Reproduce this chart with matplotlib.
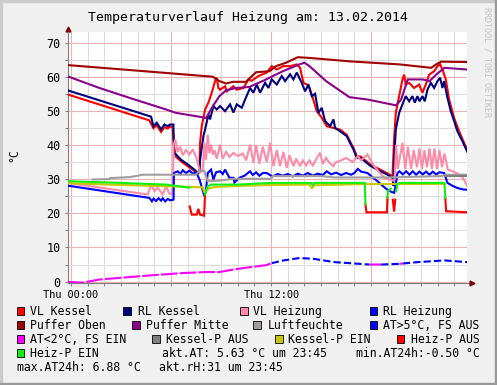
import numpy as np
import matplotlib.pyplot as plt
from matplotlib.patches import Rectangle

# Temperaturverlauf Heizung (RRDtool-Nachbau)
# Zeit in Stunden ab Thu 00:00, Werte in °C bzw. % (Luftfeuchte)

vl_kessel = [(-0.2, 54.8), (4.7, 47.2), (4.94, 44.9), (5.14, 45.8), (5.4, 43.8), (5.6, 45.2), (5.8, 44.8),
             (5.94, 45.5), (6.1, 45.0), (6.16, 40.0), (6.3, 36.5), (6.6, 35.2), (7.0, 33.8), (7.4, 32.4),
             (7.6, 31.5), (7.7, 33.0), (7.74, 40.6), (7.84, 45.5), (8.04, 50.4), (8.24, 52.4), (8.44, 55.3),
             (8.64, 58.7), (8.74, 59.7), (8.84, 56.7), (8.94, 56.2), (9.24, 57.2), (9.34, 55.7), (9.74, 57.2),
             (9.94, 56.2), (10.34, 56.7), (10.64, 59.2), (10.84, 58.8), (11.24, 60.2), (11.74, 61.2),
             (12.04, 63.1), (12.34, 62.1), (12.74, 63.1), (13.14, 63.1), (13.54, 63.6), (13.74, 62.6),
             (13.94, 58.2), (14.24, 57.5), (14.44, 54.8), (14.74, 49.9), (15.04, 48.0), (15.34, 45.5),
             (15.74, 45.0), (16.14, 44.5), (16.54, 43.0), (16.74, 41.0), (16.94, 39.2), (17.14, 36.7),
             (17.38, 36.6), (17.98, 34.2), (18.58, 32.7), (18.98, 31.7), (19.28, 30.8), (19.38, 41.6),
             (19.48, 49.4), (19.68, 54.3), (19.88, 59.2), (19.98, 60.6), (20.08, 57.7), (20.28, 58.2),
             (20.58, 56.7), (20.88, 57.7), (21.08, 55.3), (21.28, 57.7), (21.48, 60.6), (21.78, 61.6),
             (21.98, 63.1), (22.14, 63.6), (22.28, 62.1), (22.48, 59.2), (22.68, 53.3), (22.98, 47.9),
             (23.28, 44.0), (23.58, 40.6), (23.77, 38.5)]

rl_kessel = [(-0.2, 56.0), (4.8, 48.3), (4.94, 45.5), (5.14, 46.5), (5.4, 44.6), (5.6, 46.0), (5.8, 45.5),
             (5.94, 46.0), (6.14, 46.0), (6.18, 37.5), (6.3, 37.2), (6.6, 35.7), (7.0, 34.3), (7.4, 32.8),
             (7.6, 31.8), (7.7, 32.0), (7.74, 35.7), (7.94, 42.6), (8.04, 44.5), (8.24, 48.9), (8.34, 47.5),
             (8.54, 51.4), (8.74, 50.4), (8.94, 51.4), (9.24, 49.9), (9.54, 51.9), (9.74, 49.5), (9.94, 51.9),
             (10.24, 50.9), (10.44, 53.3), (10.74, 56.7), (10.94, 55.3), (11.14, 57.7), (11.34, 55.3),
             (11.64, 58.2), (11.84, 56.7), (12.04, 59.2), (12.34, 57.7), (12.64, 60.2), (12.84, 58.7),
             (13.14, 60.7), (13.34, 59.2), (13.54, 61.2), (13.74, 59.2), (13.84, 58.2), (14.04, 55.7),
             (14.24, 57.7), (14.44, 54.3), (14.64, 55.0), (14.84, 49.4), (15.04, 50.9), (15.24, 47.0),
             (15.54, 45.5), (15.74, 47.5), (15.84, 45.0), (16.14, 44.0), (16.54, 42.6), (16.74, 40.6),
             (16.94, 38.7), (17.14, 36.2), (17.38, 36.2), (17.98, 33.8), (18.58, 32.3), (18.98, 31.3),
             (19.28, 30.4), (19.34, 28.0), (19.38, 35.7), (19.48, 44.5), (19.68, 49.4), (19.88, 51.9),
             (20.08, 54.3), (20.28, 52.8), (20.48, 54.3), (20.62, 52.4), (20.78, 54.3), (20.9, 52.8),
             (21.08, 54.3), (21.22, 52.8), (21.38, 56.2), (21.58, 58.2), (21.78, 56.7), (21.98, 58.7),
             (22.14, 59.7), (22.28, 56.7), (22.38, 58.7), (22.58, 53.8), (22.78, 49.9), (22.98, 47.0),
             (23.18, 44.0), (23.48, 41.1), (23.77, 38.0)]

vl_heizung = [(-0.2, 28.9), (4.6, 25.5), (4.8, 28.4), (5.0, 26.5), (5.2, 27.5), (5.5, 25.5), (5.7, 27.9),
              (5.9, 25.8), (6.1, 25.5), (6.15, 40.0), (6.25, 41.6), (6.4, 38.0), (6.55, 39.5), (6.7, 37.0),
              (6.9, 38.5), (7.1, 37.2), (7.3, 38.7), (7.5, 36.5), (7.6, 34.8), (7.75, 31.8), (7.9, 33.0),
              (8.0, 40.6), (8.1, 35.7), (8.2, 43.0), (8.3, 37.7), (8.4, 40.1), (8.5, 37.2), (8.6, 38.5),
              (8.74, 36.0), (8.94, 40.1), (9.1, 36.0), (9.3, 38.0), (9.5, 36.5), (9.74, 37.7), (10.0, 36.8),
              (10.3, 37.5), (10.5, 35.5), (10.74, 40.1), (10.94, 34.8), (11.1, 40.0), (11.3, 34.5),
              (11.5, 39.5), (11.74, 35.0), (11.94, 40.6), (12.14, 33.8), (12.34, 38.5), (12.54, 33.8),
              (12.74, 38.0), (12.94, 33.3), (13.1, 37.0), (13.34, 33.8), (13.5, 36.0), (13.74, 33.8),
              (13.9, 35.5), (14.1, 34.0), (14.3, 35.5), (14.5, 34.0), (14.7, 35.8), (14.94, 37.7),
              (15.1, 34.5), (15.3, 36.2), (15.5, 34.8), (15.74, 33.8), (15.84, 34.8), (16.2, 35.5),
              (16.5, 36.2), (16.9, 35.0), (17.2, 36.7), (17.4, 35.5), (17.78, 37.2), (17.98, 35.5),
              (18.18, 33.8), (18.78, 30.4), (19.08, 29.9), (19.4, 29.5), (19.5, 40.1), (19.6, 33.0),
              (19.88, 40.6), (20.05, 33.0), (20.2, 39.5), (20.4, 33.0), (20.55, 38.5), (20.75, 33.5),
              (20.9, 39.0), (21.05, 33.0), (21.2, 38.5), (21.35, 33.5), (21.5, 39.0), (21.65, 33.0),
              (21.8, 39.0), (21.95, 33.0), (22.1, 38.5), (22.25, 33.5), (22.4, 37.5), (22.6, 32.8),
              (22.9, 32.3), (23.3, 31.3), (23.5, 30.4), (23.77, 28.0)]

rl_heizung = [(-0.2, 28.1), (4.7, 24.5), (4.85, 23.5), (4.95, 24.3), (5.1, 23.6), (5.25, 24.4), (5.4, 23.7),
              (5.5, 24.4), (5.65, 23.5), (5.8, 24.2), (5.95, 23.8), (6.15, 24.0), (6.17, 31.8), (6.4, 32.3),
              (6.55, 31.5), (6.7, 32.6), (6.9, 31.8), (7.1, 32.5), (7.3, 31.6), (7.5, 32.0), (7.7, 30.0),
              (7.85, 27.5), (8.0, 25.0), (8.1, 27.0), (8.2, 31.8), (8.4, 32.8), (8.54, 29.9), (8.7, 32.0),
              (8.94, 32.3), (9.1, 31.5), (9.24, 32.8), (9.5, 30.4), (9.74, 30.4), (9.8, 29.0), (10.1, 30.4),
              (10.4, 31.0), (10.74, 32.3), (10.9, 31.2), (11.1, 32.0), (11.3, 31.0), (11.5, 31.8),
              (11.74, 31.8), (12.0, 31.0), (12.14, 30.9), (12.4, 31.5), (12.7, 31.0), (13.0, 31.5),
              (13.3, 30.8), (13.6, 31.6), (13.9, 31.0), (14.2, 31.8), (14.5, 31.0), (14.8, 31.6),
              (15.1, 31.2), (15.34, 32.3), (15.6, 31.4), (15.9, 31.9), (16.2, 31.2), (16.5, 31.8),
              (16.8, 31.3), (17.0, 31.8), (17.2, 33.0), (17.4, 32.2), (17.78, 31.8), (18.1, 30.5),
              (18.38, 29.4), (18.7, 28.0), (18.98, 26.9), (19.2, 26.3), (19.38, 26.0), (19.5, 29.0),
              (19.58, 31.8), (19.7, 32.3), (19.9, 31.4), (20.1, 32.3), (20.3, 31.3), (20.5, 32.3),
              (20.7, 31.3), (20.9, 32.2), (21.1, 31.4), (21.3, 32.2), (21.5, 31.3), (21.7, 32.2),
              (21.9, 31.4), (22.1, 32.0), (22.38, 31.8), (22.58, 28.9), (22.9, 28.0), (23.18, 27.4),
              (23.5, 27.0), (23.77, 26.9)]

puffer_oben = [(-0.2, 63.4), (8.5, 60.0), (8.9, 58.7), (9.3, 58.0), (9.7, 58.5), (10.5, 58.5), (10.74, 59.7),
               (11.1, 61.3), (11.9, 61.6), (12.3, 63.1), (12.9, 64.1), (13.6, 65.7), (14.3, 65.5),
               (16.7, 64.5), (19.7, 63.6), (21.6, 62.6), (21.9, 63.6), (22.2, 64.4), (23.77, 64.3)]

puffer_mitte = [(-0.2, 60.1), (1.7, 56.7), (3.7, 53.5), (5.7, 50.4), (6.3, 49.4), (7.8, 48.2), (8.1, 47.9),
                (8.5, 51.3), (8.9, 54.3), (9.3, 56.0), (9.9, 56.7), (10.7, 57.0), (11.7, 59.2), (12.7, 61.6),
                (13.7, 63.6), (14.0, 64.1), (14.3, 63.1), (15.3, 58.7), (16.7, 54.0), (17.8, 53.3),
                (19.5, 51.6), (19.8, 53.3), (20.2, 59.2), (21.1, 59.2), (21.5, 58.7), (21.9, 60.6),
                (22.4, 62.6), (23.77, 62.1)]

luftfeuchte = [(1.3, 29.9), (2.3, 30.0), (2.35, 30.3), (3.5, 30.6), (3.9, 30.9), (4.3, 31.3), (7.5, 31.3),
               (7.7, 32.5), (8.0, 32.3), (8.2, 29.4), (9.0, 29.6), (9.7, 30.1), (12.0, 30.1), (12.1, 30.9),
               (15.0, 30.9), (15.8, 30.5), (19.0, 30.5), (22.2, 30.9), (22.5, 31.3), (23.77, 31.3)]

at_fs_aus = [(12.04, 5.4), (12.74, 6.2), (13.7, 6.9), (14.5, 6.7), (15.8, 5.7), (17.0, 5.3), (17.9, 5.0),
             (17.91, np.nan), (18.6, 5.0), (19.7, 5.2), (19.71, np.nan), (19.9, 5.3), (20.8, 5.7),
             (22.4, 6.2), (23.77, 5.7)]

at_fs_ein = [(-0.2, -0.1), (0.7, -0.3), (1.7, 0.6), (3.7, 1.4), (4.7, 1.8), (6.7, 2.5), (8.1, 2.8),
             (8.9, 2.8), (9.7, 3.5), (10.7, 4.2), (11.7, 4.8), (12.04, 5.4), (12.05, np.nan),
             (17.9, 5.0), (18.6, 5.0), (18.61, np.nan), (19.7, 5.2), (19.9, 5.3)]

kessel_p_aus = [(22.42, 31.0), (23.77, 31.0)]

kessel_p_ein = [(-0.2, 28.8), (3.0, 28.3), (6.0, 27.9), (7.9, 27.6), (8.0, 26.0), (8.1, 26.8), (8.3, 27.3),
                (8.6, 27.7), (10.0, 28.0), (12.0, 28.3), (14.3, 28.4), (14.45, 27.4), (14.6, 28.2),
                (17.0, 28.5), (19.5, 28.6), (22.4, 28.6)]

heiz_p_aus = [(7.12, 22.0), (7.24, 19.6), (7.54, 19.6), (7.64, 21.3), (7.74, 19.6), (7.98, 19.3), (8.04, 25.5),
              (8.05, np.nan), (17.66, 22.6), (17.72, 20.3), (18.95, 20.3), (18.98, 24.6), (18.99, np.nan),
              (19.3, 24.0), (19.38, 20.5), (19.45, 24.0), (19.46, np.nan), (22.45, 24.5), (22.5, 20.6),
              (23.77, 20.3)]

heiz_p_ein = [(-0.2, 29.4), (3.0, 28.9), (5.7, 28.4), (7.1, 27.5), (7.11, np.nan), (8.04, 25.5), (8.2, 27.9),
              (8.4, 28.4), (10.0, 28.4), (12.0, 28.9), (14.4, 28.9), (14.5, 28.2), (14.6, 28.9),
              (17.62, 28.9), (17.66, 22.6), (17.67, np.nan), (18.98, 24.6), (19.0, 26.5), (19.18, 27.2),
              (19.19, np.nan), (19.5, 26.5), (19.58, 28.4), (19.7, 28.9), (22.4, 28.9), (22.45, 24.5)]

serien = [
    ("VL Kessel", vl_kessel, "#ff0000", "-"),
    ("RL Kessel", rl_kessel, "#000080", "-"),
    ("VL Heizung", vl_heizung, "#ff8aa8", "-"),
    ("RL Heizung", rl_heizung, "#0000ff", "-"),
    ("Puffer Oben", puffer_oben, "#a00000", "-"),
    ("Puffer Mitte", puffer_mitte, "#8b008b", "-"),
    ("Luftfeuchte", luftfeuchte, "#a09ca0", "-"),
    ("AT>5°C, FS AUS", at_fs_aus, "#0000ff", (0, (3.5, 1.5))),
    ("AT<2°C, FS EIN", at_fs_ein, "#ff00ff", (0, (8, 1))),
    ("Kessel-P AUS", kessel_p_aus, "#808080", "-"),
    ("Kessel-P EIN", kessel_p_ein, "#c8c800", "-"),
    ("Heiz-P AUS", heiz_p_aus, "#ff0000", "-"),
    ("Heiz-P EIN", heiz_p_ein, "#10f010", "-"),
]

W, H = 497, 385
plt.rcParams['font.family'] = 'DejaVu Sans Mono'

fig = plt.figure(figsize=(W / 100, H / 100), dpi=100, facecolor='#f0f0f0')

def fx(px):
    return px / W

def fy(py):
    return 1 - py / H

# Rahmen (RRDtool Schattierung)
fig.patches.append(Rectangle((0, 0), 1, fy(2.0) - 0 + 0, transform=fig.transFigure, color='#f0f0f0', zorder=-5))
fig.patches.append(Rectangle((0, fy(2)), 1, 2 / H, transform=fig.transFigure, color='#cbcbcb'))
fig.patches.append(Rectangle((0, 0), 2 / W, 1, transform=fig.transFigure, color='#cbcbcb'))
fig.patches.append(Rectangle((0, 0), 1, 2.5 / H, transform=fig.transFigure, color='#999999'))
fig.patches.append(Rectangle((1 - 2.5 / W, 0), 2.5 / W, 1, transform=fig.transFigure, color='#999999'))

ax = fig.add_axes([fx(67.7), fy(283.3), (467.3 - 67.7) / W, (283.3 - 32.3) / H])
ax.set_facecolor('white')
ax.set_xlim(-0.2, 23.77)
ax.set_ylim(-0.5, 73)

for name, data, color, ls in serien:
    arr = np.array(data, dtype=float)
    ax.plot(arr[:, 0], arr[:, 1], color=color, lw=1.5, ls=ls, solid_joinstyle='miter', zorder=3)

# Gitter
ax.set_xticks([0, 6, 12, 18])
ax.set_xticklabels(['Thu 00:00', '', 'Thu 12:00', ''])
ax.set_xticks(np.arange(0, 24), minor=True)
ax.set_yticks(range(0, 71, 10))
ax.set_yticks(range(5, 71, 10), minor=True)
ax.grid(which='minor', color='#dcdcdc', lw=0.8)
ax.grid(which='major', color='#eab4b4', lw=0.8)
ax.set_axisbelow(True)
ax.tick_params(axis='both', which='both', length=2, width=0.7, color='#808080', direction='out')
ax.tick_params(axis='x', labelsize=7.4, pad=2.5)
ax.tick_params(axis='y', labelsize=8.5, pad=3)
for s in ['top', 'right']:
    ax.spines[s].set_visible(False)
for s in ['left', 'bottom']:
    ax.spines[s].set_color('#808080')
    ax.spines[s].set_linewidth(0.8)

# Achsenpfeile
ax.plot([1.0, 1.012], [0, 0], transform=ax.transAxes, color='#808080', lw=0.8, clip_on=False)
ax.plot([1.012], [0], transform=ax.transAxes, marker='>', ms=3.5, color='#7f0000', clip_on=False)
ax.plot([0, 0], [1.0, 1.012], transform=ax.transAxes, color='#808080', lw=0.8, clip_on=False)
ax.plot([0], [1.012], transform=ax.transAxes, marker='^', ms=3.5, color='#7f0000', clip_on=False)

fig.text(fx(248), fy(21), 'Temperaturverlauf Heizung am: 13.02.2014', ha='center', va='baseline', fontsize=9.5)
fig.text(fx(13.5), fy(155), '°C', rotation=90, ha='center', va='center', fontsize=8.3)
fig.text(fx(487), fy(62), 'RRDTOOL / TOBI OETIKER', rotation=-90, ha='center', va='center',
         fontsize=6, color='#c4c4c4')

# Legende
farbe = {name: color for name, data, color, ls in serien}
zeilen = [315, 329, 343, 357, 371]
legende = [
    (0, 16.7, 30, 'VL Kessel'), (0, 123, 138.3, 'RL Kessel'), (0, 240, 253.3, 'VL Heizung'),
    (0, 369.5, 382.7, 'RL Heizung'),
    (1, 16.7, 30, 'Puffer Oben'), (1, 132, 145.7, 'Puffer Mitte'), (1, 253.3, 267.3, 'Luftfeuchte'),
    (1, 369.5, 382.7, 'AT>5°C, FS AUS'),
    (2, 16.7, 30, 'AT<2°C, FS EIN'), (2, 152.3, 165.7, 'Kessel-P AUS'), (2, 275, 288.3, 'Kessel-P EIN'),
    (2, 396.7, 410.7, 'Heiz-P AUS'),
    (3, 16.7, 30, 'Heiz-P EIN'),
]
for row, bx, tx, label in legende:
    base = zeilen[row]
    fig.patches.append(Rectangle((fx(bx), fy(base)), 7.6 / W, 7.6 / H, transform=fig.transFigure,
                                 facecolor=farbe[label], edgecolor='black', lw=0.6))
    fig.text(fx(tx), fy(base), label, ha='left', va='baseline', fontsize=8.3)

fig.text(fx(161.7), fy(zeilen[3]), 'akt.AT: 5.63 °C um 23:45', ha='left', va='baseline', fontsize=8.3)
fig.text(fx(355.7), fy(zeilen[3]), 'min.AT24h:-0.50 °C', ha='left', va='baseline', fontsize=8.3)
fig.text(fx(16.7), fy(zeilen[4]), 'max.AT24h: 6.88 °C', ha='left', va='baseline', fontsize=8.3)
fig.text(fx(158.7), fy(zeilen[4]), 'akt.rH:31 um 23:45', ha='left', va='baseline', fontsize=8.3)

fig.savefig('out.png', dpi=100, facecolor=fig.get_facecolor())
